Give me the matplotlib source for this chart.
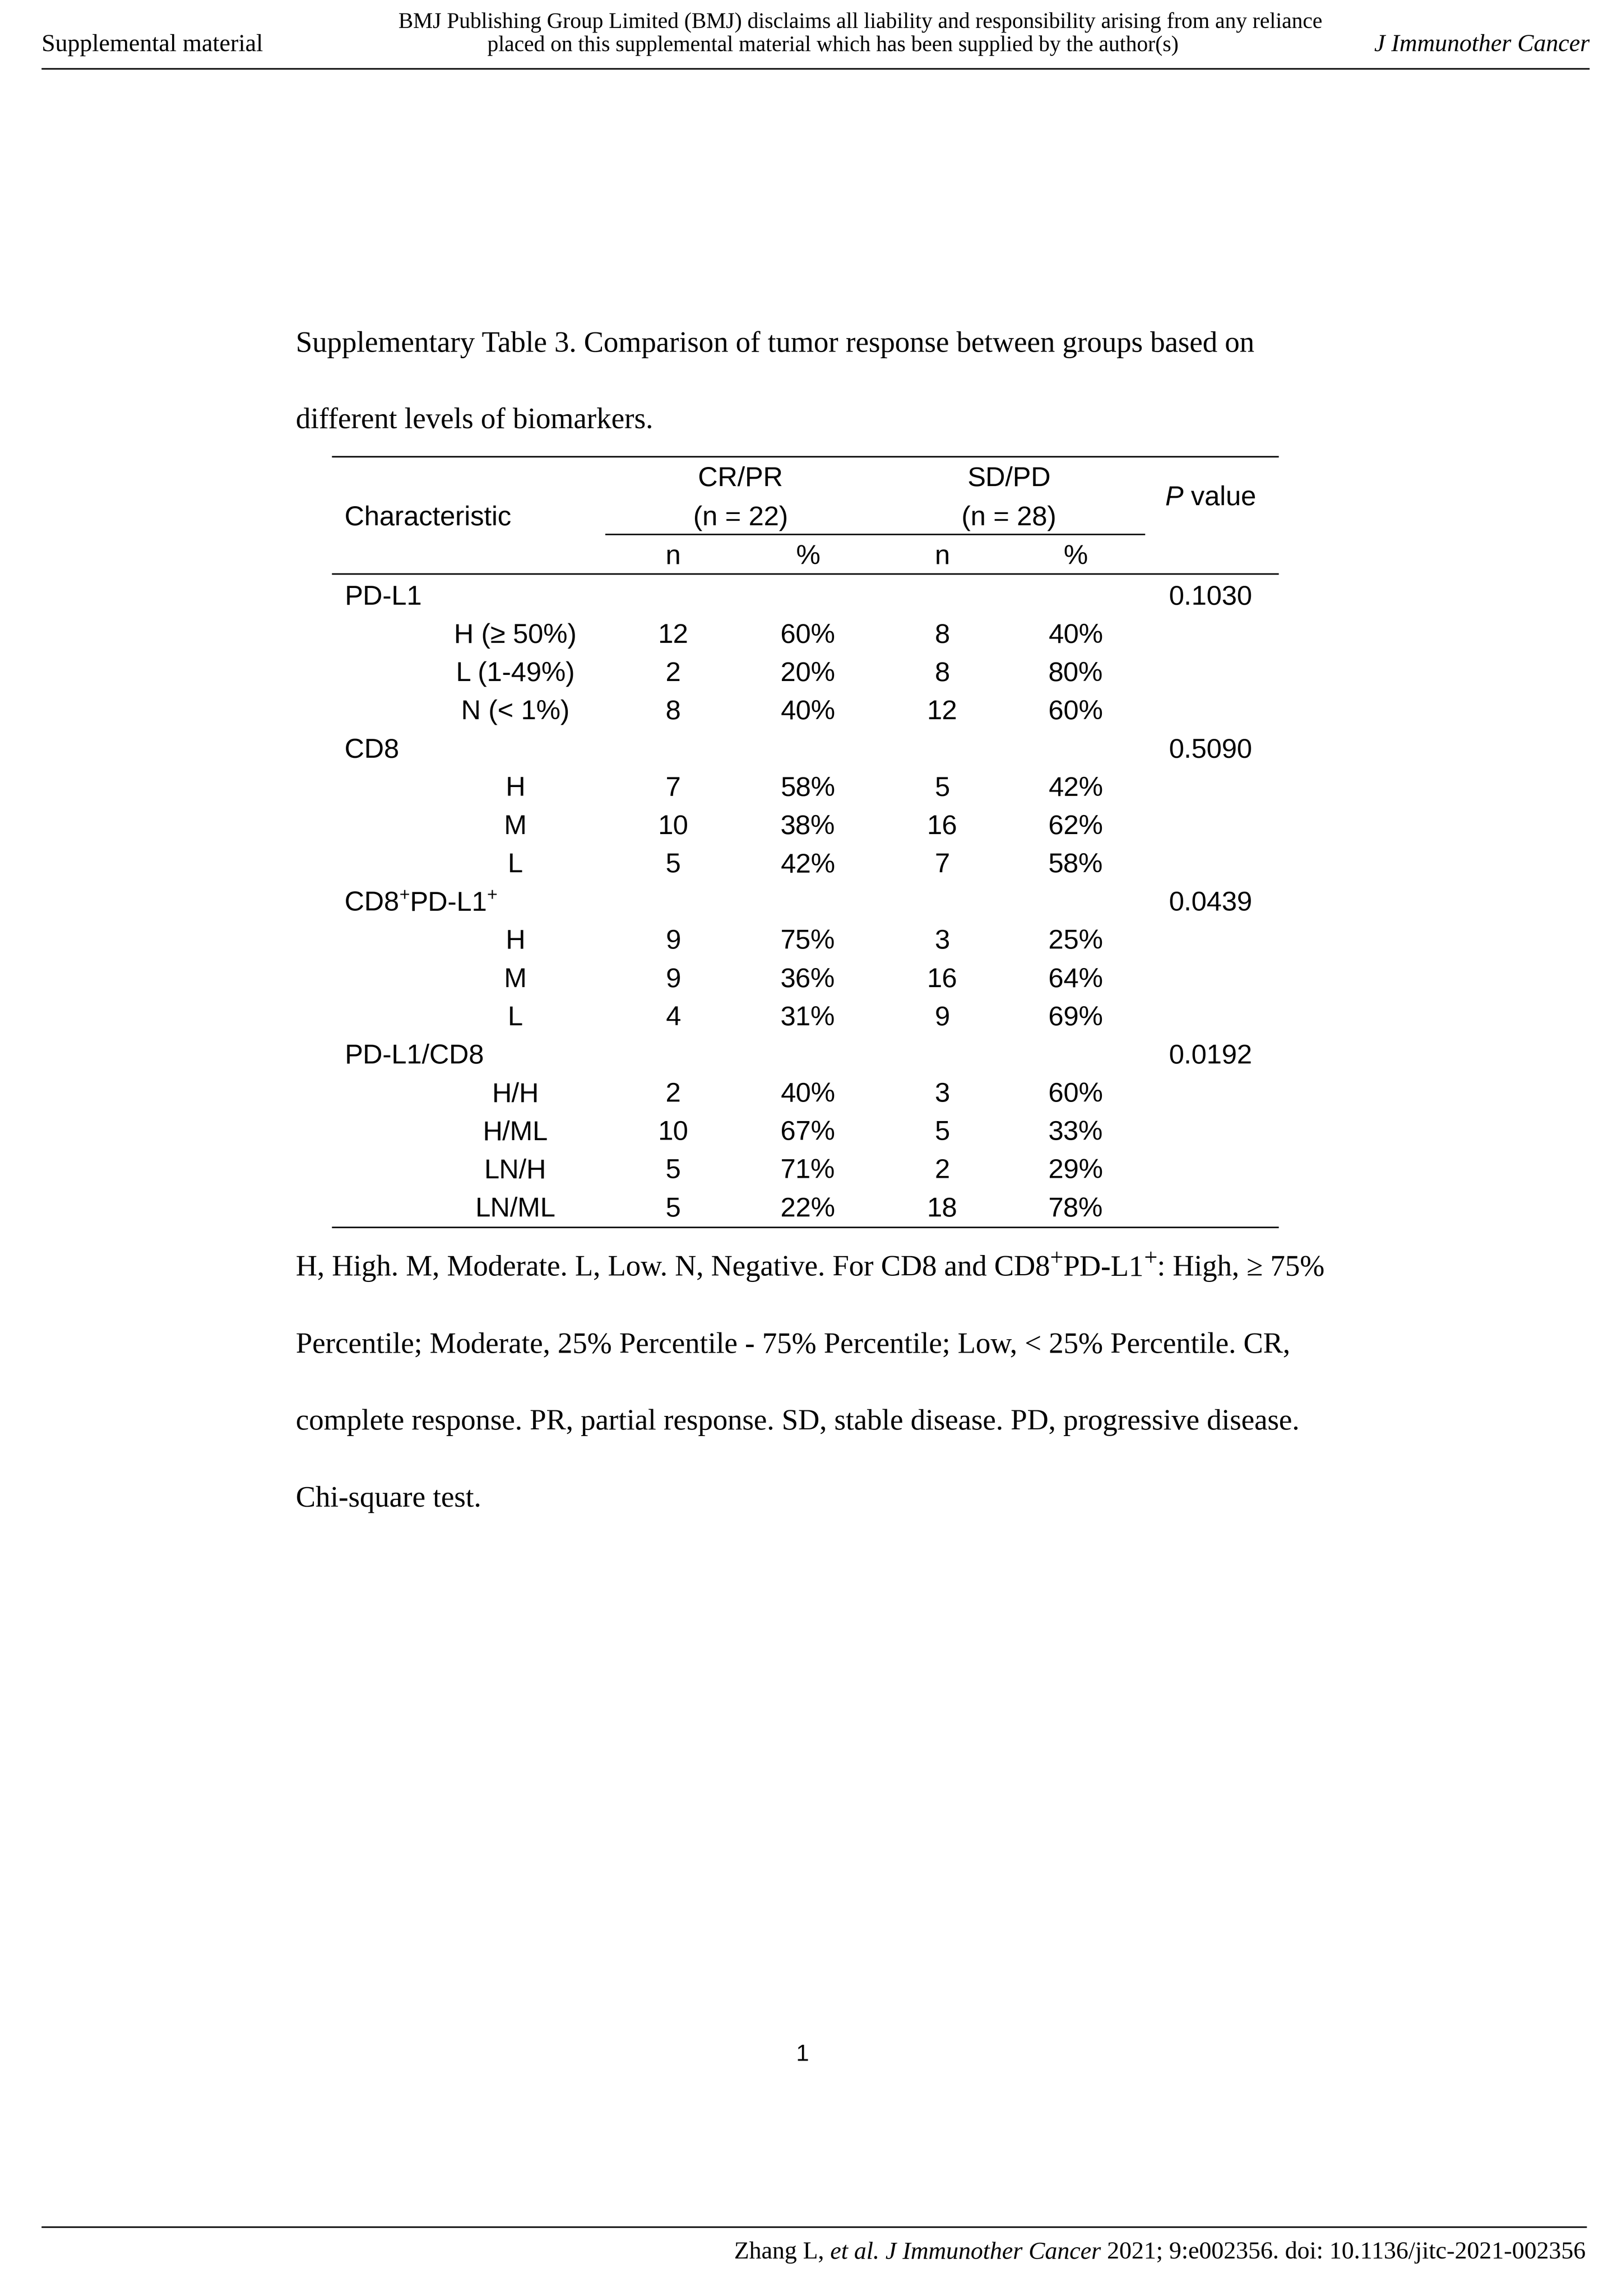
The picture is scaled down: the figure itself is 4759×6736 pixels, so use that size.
import matplotlib
matplotlib.use("Agg")
import matplotlib.pyplot as plt

# ---------------- data ----------------
header_left = "Supplemental material"
header_center = [
    "BMJ Publishing Group Limited (BMJ) disclaims all liability and responsibility arising from any reliance",
    "placed on this supplemental material which has been supplied by the author(s)",
]
header_right = "J Immunother Cancer"

title_lines = [
    "Supplementary Table 3. Comparison of tumor response between groups based on",
    "different levels of biomarkers.",
]

char_header = "Characteristic"
col_headers = ["CR/PR", "SD/PD"]
col_ns = ["(n = 22)", "(n = 28)"]
sub_headers = ["n", "%", "n", "%"]

groups = ["PD-L1", "CD8", "CD8⁺PD-L1⁺", "PD-L1/CD8"]
p_values = ["0.1030", "0.5090", "0.0439", "0.0192"]
levels = [
    ["H (≥ 50%)", "L (1-49%)", "N (< 1%)"],
    ["H", "M", "L"],
    ["H", "M", "L"],
    ["H/H", "H/ML", "LN/H", "LN/ML"],
]
crpr_n = [[12, 2, 8], [7, 10, 5], [9, 9, 4], [2, 10, 5, 5]]
crpr_pct = [[60, 20, 40], [58, 38, 42], [75, 36, 31], [40, 67, 71, 22]]
sdpd_n = [[8, 8, 12], [5, 16, 7], [3, 16, 9], [3, 5, 2, 18]]
sdpd_pct = [[40, 80, 60], [42, 62, 58], [25, 64, 69], [60, 33, 29, 78]]

footnote_lines = [
    "H, High. M, Moderate. L, Low. N, Negative. For CD8 and CD8⁺PD-L1⁺: High, ≥ 75%",
    "Percentile; Moderate, 25% Percentile - 75% Percentile; Low, < 25% Percentile. CR,",
    "complete response. PR, partial response. SD, stable disease. PD, progressive disease.",
    "Chi-square test.",
]
page_number = "1"
footer_parts = [
    ("Zhang L, ", "n"),
    ("et al.", "i"),
    (" ", "n"),
    ("J Immunother Cancer", "i"),
    (" 2021; 9:e002356. doi: 10.1136/jitc-2021-002356", "n"),
]

# ---------------- layout ----------------
W, H = 4759, 6736
DPI = 576
PX_PER_PT = DPI / 72.0
PT_W, PT_H = W / PX_PER_PT, H / PX_PER_PT

SERIF = "Liberation Serif"
SANS = "Liberation Sans"

fig = plt.figure(figsize=(W / DPI, H / DPI), dpi=DPI)
fig.patch.set_facecolor("white")
ax = fig.add_axes([0, 0, 1, 1])
ax.set_xlim(0, PT_W)
ax.set_ylim(PT_H, 0)
ax.axis("off")
renderer = fig.canvas.get_renderer()


def measure(t, size, family, style):
    a = ax.text(0, 0, "|" + t + "|", fontsize=size, family=family, fontstyle=style)
    b = ax.text(0, 0, "||", fontsize=size, family=family, fontstyle=style)
    w = (a.get_window_extent(renderer).width - b.get_window_extent(renderer).width) / PX_PER_PT
    a.remove()
    b.remove()
    return w


def split_sup(s):
    parts = []
    buf = ""
    for ch in s:
        if ch == "⁺":
            if buf:
                parts.append((buf, "n"))
                buf = ""
            parts.append(("+", "sup"))
        else:
            buf += ch
    if buf:
        parts.append((buf, "n"))
    return parts


def draw_runs(x, y, parts, size, family, ha="left", color="black", sup_scale=0.66):
    specs = []
    for t, kind in parts:
        s = size * sup_scale if kind == "sup" else size
        style = "italic" if kind == "i" else "normal"
        dy = -size * 0.36 if kind == "sup" else 0.0
        w = measure(t, s, family, style)
        specs.append((t, s, style, dy, w))
    total = sum(sp[4] for sp in specs)
    if ha == "right":
        x0 = x - total
    elif ha == "center":
        x0 = x - total / 2
    else:
        x0 = x
    for t, s, style, dy, w in specs:
        ax.text(x0, y + dy, t, fontsize=s, family=family, fontstyle=style,
                ha="left", va="baseline", color=color)
        x0 += w


LW = 0.55
BODY = 10.85

# ---- page header ----
ax.text(15.3, 18.75, header_left, fontsize=9, family=SERIF, ha="left", va="baseline")
ax.text(315.5, 10.3, header_center[0], fontsize=8.1, family=SERIF, ha="center", va="baseline")
ax.text(305.5, 18.75, header_center[1], fontsize=8.1, family=SERIF, ha="center", va="baseline")
ax.text(583.0, 18.75, header_right, fontsize=9, family=SERIF, fontstyle="italic",
        ha="right", va="baseline")
ax.plot([15.3, 583.0], [25.3, 25.3], color="black", lw=LW, solid_capstyle="butt")

# ---- title ----
title_y = [129.0, 157.0]
for t, y in zip(title_lines, title_y):
    ax.text(108.5, y, t, fontsize=BODY, family=SERIF, ha="left", va="baseline")

# ---- table ----
TX0, TX1 = 121.8, 469.0
col_x = [246.9, 296.3, 345.6, 394.5]
p_x = 444.0
label_x = 126.4
sub_x = 189.0
TS = 10

ax.plot([TX0, TX1], [167.5, 167.5], color="black", lw=LW, solid_capstyle="butt")
ax.plot([222.0, 420.0], [196.0, 196.0], color="black", lw=LW, solid_capstyle="butt")
ax.plot([TX0, TX1], [210.5, 210.5], color="black", lw=LW, solid_capstyle="butt")

grp_cx = [(col_x[0] + col_x[1]) / 2, (col_x[2] + col_x[3]) / 2]
for cx, h, nn in zip(grp_cx, col_headers, col_ns):
    ax.text(cx, 178.3, h, fontsize=TS, family=SANS, ha="center", va="baseline")
    ax.text(cx, 192.6, nn, fontsize=TS, family=SANS, ha="center", va="baseline")
ax.text(label_x, 192.6, char_header, fontsize=TS, family=SANS, ha="left", va="baseline")
draw_runs(p_x, 185.2, [("P", "i"), (" value", "n")], TS, SANS, ha="center")
for cx, s in zip(col_x, sub_headers):
    ax.text(cx, 206.9, s, fontsize=TS, family=SANS, ha="center", va="baseline")

row0 = 221.75
step = 14.02
r = 0
for g, pv, lv, a, ap, b, bp in zip(groups, p_values, levels, crpr_n, crpr_pct, sdpd_n, sdpd_pct):
    y = row0 + r * step
    draw_runs(label_x, y, split_sup(g), TS, SANS, ha="left")
    ax.text(p_x, y, pv, fontsize=TS, family=SANS, ha="center", va="baseline")
    r += 1
    for i, lab in enumerate(lv):
        y = row0 + r * step
        ax.text(sub_x, y, lab, fontsize=TS, family=SANS, ha="center", va="baseline")
        vals = [str(a[i]), f"{ap[i]}%", str(b[i]), f"{bp[i]}%"]
        for cx, v in zip(col_x, vals):
            ax.text(cx, y, v, fontsize=TS, family=SANS, ha="center", va="baseline")
        r += 1

bottom_y = row0 + (r - 1) * step + 4.0
ax.plot([TX0, TX1], [bottom_y, bottom_y], color="black", lw=LW, solid_capstyle="butt")

# ---- footnote ----
fn_y0 = 467.8
fn_step = 28.25
for i, t in enumerate(footnote_lines):
    draw_runs(108.5, fn_y0 + i * fn_step, split_sup(t), BODY, SERIF, ha="left",
              sup_scale=0.8)

# ---- page number ----
ax.text(294.3, 755.7, page_number, fontsize=8.5, family=SANS, ha="center", va="baseline")

# ---- footer ----
ax.plot([15.3, 582.0], [816.7, 816.7], color="black", lw=LW, solid_capstyle="butt")
draw_runs(581.5, 828.3, footer_parts, 9, SERIF, ha="right")

fig.savefig("out.png", dpi=DPI, facecolor="white")
